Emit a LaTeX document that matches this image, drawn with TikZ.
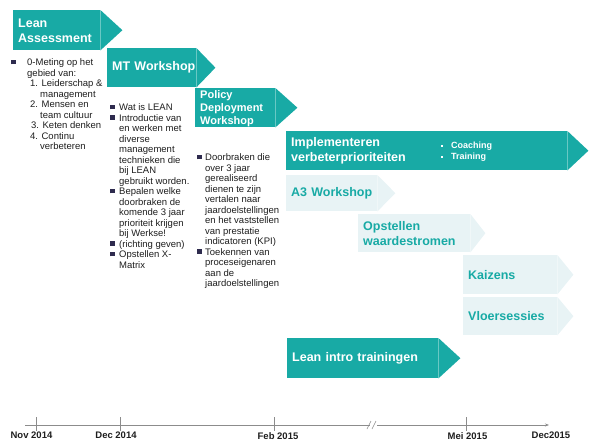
\documentclass[tikz,border=0pt]{standalone}
\usepackage{fontspec}
\setmainfont{Liberation Sans}
\usetikzlibrary{calc,arrows.meta}
\definecolor{petrol}{HTML}{18AAA5}
\definecolor{petrollicht}{HTML}{E8F3F5}
\definecolor{kogelkleur}{HTML}{2E2B4E}
\definecolor{tekst}{HTML}{1E1E1E}
\definecolor{lijn}{HTML}{8C8C8C}
\hyphenpenalty=10000
\newcommand{\kogel}{\textcolor{kogelkleur}{\rule[1.2pt]{4.5pt}{4.5pt}}}
\newcommand{\stip}{\rule[2pt]{2pt}{2pt}}
\newcommand{\pijlpunt}[3]{\fill[#3] (#1.north east) -- ($(#1.east)+(#2,0)$) -- (#1.south east) -- cycle;}
\begin{document}
\begin{tikzpicture}[x=1pt, y=-1pt,
    fase/.style={anchor=north west, fill=petrol, text=white, inner xsep=5pt, inner ysep=0pt, align=left, font=\fontsize{12.5}{15}\selectfont\bfseries},
    faselicht/.style={fase, fill=petrollicht, text=petrol},
    lijst/.style={anchor=north west, inner sep=0pt, text=tekst, font=\fontsize{9.5}{10.5}\selectfont},
    datum/.style={anchor=north, inner sep=0pt, text=tekst, font=\fontsize{9.5}{11}\selectfont\bfseries},
    tijdlijn/.style={draw=lijn, line width=0.6pt}]
    \useasboundingbox (0,0) rectangle (600,445);
    % fasen
    \node[fase, text width=77pt, minimum height=40pt] (assessment) at (13,10) {\strut Lean\\Assessment};
    \pijlpunt{assessment}{22}{petrol}
    \node[fase, text width=79pt, minimum height=39pt] (mt) at (107,48) {MT~Workshop};
    \pijlpunt{mt}{19}{petrol}
    \node[fase, text width=70pt, minimum height=39pt, font=\fontsize{11}{13}\selectfont\bfseries] (policy) at (195,88) {\strut Policy\\Deployment\\Workshop};
    \pijlpunt{policy}{22}{petrol}
    \node[fase, text width=271pt, minimum height=39pt] (implementeren) at (286,131) {Implementeren\\verbeterprioriteiten};
    \pijlpunt{implementeren}{21}{petrol}
    \node[anchor=north west, inner sep=0pt, text=white, font=\fontsize{9}{11}\selectfont\bfseries] (coaching) at (441,141)
        {\begin{tabular}{@{}p{10pt}@{}l@{}}\stip & Coaching\\ \stip & Training\end{tabular}};
    \node[faselicht, text width=81pt, minimum height=36pt] (a3) at (286,175) {A3~Workshop};
    \pijlpunt{a3}{18}{petrollicht}
    \node[faselicht, text width=102pt, minimum height=38pt] (waardestromen) at (358,214) {Opstellen\\waardestromen};
    \pijlpunt{waardestromen}{15}{petrollicht}
    \node[faselicht, text width=84pt, minimum height=39pt] (kaizens) at (463,255) {Kaizens};
    \pijlpunt{kaizens}{16}{petrollicht}
    \node[faselicht, text width=84pt, minimum height=38pt] (vloer) at (463,297) {Vloersessies};
    \pijlpunt{vloer}{16}{petrollicht}
    \node[fase, text width=141pt, minimum height=40pt] (intro) at (287,338) {Lean intro trainingen};
    \pijlpunt{intro}{22}{petrol}
    % toelichting per fase
    \node[lijst] (meting) at (11,58) {\begin{tabular}{@{}p{16pt}@{}l@{}}
        \kogel & 0-Meting op het\\
        & gebied van:\\
        & \hspace{3pt}1. Leiderschap \&\\
        & \hspace{13pt}management\\
        & \hspace{3pt}2. Mensen en\\
        & \hspace{13pt}team cultuur\\
        & \hspace{4pt}3. Keten denken\\
        & \hspace{3pt}4. Continu\\
        & \hspace{13pt}verbeteren
    \end{tabular}};
    \node[lijst] (lean) at (110,103) {\begin{tabular}{@{}p{9pt}@{}l@{}}
        \kogel & Wat is LEAN\\
        \kogel & Introductie van\\
        & en werken met\\
        & diverse\\
        & management\\
        & technieken die\\
        & bij LEAN\\
        & gebruikt worden.\\
        \kogel & Bepalen welke\\
        & doorbraken de\\
        & komende 3 jaar\\
        & prioriteit krijgen\\
        & bij Werkse!\\
        \kogel & (richting geven)\\
        \kogel & Opstellen X-\\
        & Matrix
    \end{tabular}};
    \node[lijst] (doorbraken) at (197,153) {\begin{tabular}{@{}p{8pt}@{}l@{}}
        \kogel & Doorbraken die\\
        & over 3 jaar\\
        & gerealiseerd\\
        & dienen te zijn\\
        & vertalen naar\\
        & jaardoelstellingen\\
        & en het vaststellen\\
        & van prestatie\\
        & indicatoren (KPI)\\
        \kogel & Toekennen van\\
        & proceseigenaren\\
        & aan de\\
        & jaardoelstellingen
    \end{tabular}};
    % tijdlijn
    \coordinate (begin) at (25,425);
    \coordinate (breuklinks) at (370,425);
    \coordinate (breukrechts) at (377,425);
    \coordinate (eind) at (549,425);
    \draw[tijdlijn] (begin) -- (breuklinks);
    \draw[tijdlijn, -{Stealth[length=4pt, width=3pt]}] (breukrechts) -- (eind);
    \draw[tijdlijn] (367,429) -- (371,421);
    \draw[tijdlijn] (372,429) -- (376,421);
    \foreach \x in {36,120,274,466}
        \draw[tijdlijn] (\x,417) -- (\x,431);
    \node[datum] (nov) at (31.5,432) {Nov 2014};
    \node[datum] (dec) at (116,432) {Dec 2014};
    \node[datum] (feb) at (278,432) {Feb 2015};
    \node[datum] (mei) at (467.5,432) {Mei 2015};
    \node[datum] (dec15) at (551,432) {Dec2015};
\end{tikzpicture}
\end{document}
